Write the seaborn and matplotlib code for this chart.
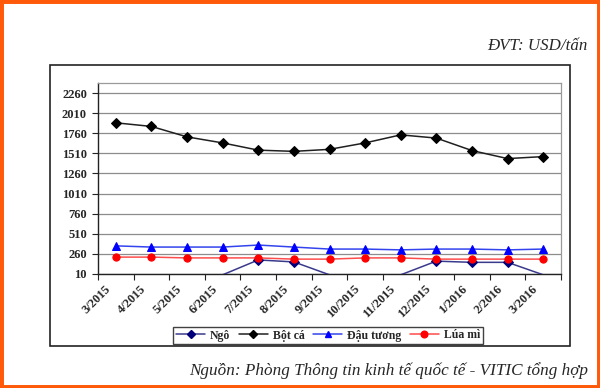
import numpy as np
import pandas as pd
import matplotlib
matplotlib.use("Agg")
import matplotlib.pyplot as plt
import seaborn as sns
from matplotlib.patches import Rectangle
from matplotlib.lines import Line2D
import matplotlib.transforms as mtransforms

months = ["3/2015", "4/2015", "5/2015", "6/2015", "7/2015", "8/2015", "9/2015",
          "10/2015", "11/2015", "12/2015", "1/2016", "2/2016", "3/2016"]
ngo = [0, 0, 0, 0, 185, 160, 0, 0, 0, 170, 155, 155, 0]
bot_ca = [1890, 1845, 1715, 1640, 1550, 1535, 1560, 1640, 1740, 1700, 1545, 1445, 1470]
dau_tuong = [360, 345, 345, 345, 370, 345, 320, 320, 310, 320, 320, 310, 320]
lua_mi = [220, 220, 210, 210, 210, 195, 195, 210, 210, 195, 195, 195, 195]
yticks = [10, 260, 510, 760, 1010, 1260, 1510, 1760, 2010, 2260]

series = [
    ("Ngô", ngo, "#3a3a8c", "#00007a", "D", 5, 4.5),
    ("Bột cá", bot_ca, "#202020", "#000000", "D", 5, 4.5),
    ("Đậu tương", dau_tuong, "#3344ee", "#0000ff", "^", 5.5, 5),
    ("Lúa mì", lua_mi, "#ff4c4c", "#ff0000", "o", 5.2, 4.8),
]

sns.set_theme(style="white")
plt.rcParams["font.family"] = ["Liberation Serif", "DejaVu Serif"]

fig = plt.figure(figsize=(6, 3.88), dpi=100)
W, H = 600, 388
ax = fig.add_axes([98 / W, 1 - 274 / H, 463 / W, 191 / H])

x = np.arange(len(months))
handles = []
for name, vals, lc, mc, mk, ms, lms in series:
    df = pd.DataFrame({"x": x, "y": vals})
    vis = [i for i, v in enumerate(vals) if v >= 10]
    sns.lineplot(data=df, x="x", y="y", ax=ax, color=lc, lw=1.1, marker=mk,
                 markersize=ms, markerfacecolor=mc, markeredgecolor=mc,
                 markevery=vis, legend=False, zorder=3)
    handles.append(Line2D([], [], color=lc, lw=1.1, marker=mk, markersize=lms,
                          markerfacecolor=mc, markeredgecolor=mc, label=name))

ax.set_xlim(-0.5, len(months) - 0.5)
ax.set_ylim(10, 2385)
ax.set_yticks(yticks)
ax.set_yticklabels([str(t) for t in yticks], fontsize=9, fontweight="bold")
ax.set_xticks(np.arange(-0.5, len(months)), minor=True)
ax.tick_params(axis="x", which="minor", length=4, width=0.8, color="#222222", direction="out", bottom=True)
ax.tick_params(axis="y", length=4, width=0.8, color="#222222", direction="out", left=True, pad=4)
ax.set_xticks(x)
ax.tick_params(axis="x", which="major", length=0, pad=0)
ax.set_xticklabels(months, rotation=45, ha="right", va="center", rotation_mode="anchor",
                   fontsize=9, fontweight="bold")
offset = mtransforms.ScaledTranslation(-7 / 100, -13 / 100, fig.dpi_scale_trans)
for lab in ax.get_xticklabels():
    lab.set_transform(lab.get_transform() + offset)
ax.set_xlabel("")
ax.set_ylabel("")
ax.grid(axis="y", color="#8c8c8c", lw=0.9)
ax.set_axisbelow(True)
for s in ["top", "right"]:
    ax.spines[s].set_color("#9a9a9a")
    ax.spines[s].set_linewidth(0.9)
for s in ["left", "bottom"]:
    ax.spines[s].set_color("#222222")
    ax.spines[s].set_linewidth(1.0)

leg = fig.legend(handles=handles, loc="center", bbox_to_anchor=(328 / W, 1 - 335.5 / H),
                 ncol=4, frameon=True, fancybox=False, edgecolor="#111111",
                 prop={"family": "Liberation Serif", "weight": "bold", "size": 8.5},
                 handlelength=2.5, handletextpad=0.4, columnspacing=0.7,
                 borderpad=0.25, borderaxespad=0)
leg.get_frame().set_linewidth(1.0)

fig.patches.append(Rectangle((50 / W, 1 - 346 / H), 520 / W, 281 / H, transform=fig.transFigure,
                             fill=False, edgecolor="#222222", lw=1.2))
fig.patches.append(Rectangle((0, 0), 1, 1, transform=fig.transFigure, fill=False,
                             edgecolor="#ff5a0a", lw=5.0))

fig.text(588 / W, 1 - 50 / H, "ĐVT: USD/tấn", ha="right", va="baseline",
         fontsize=12.2, style="italic")
fig.text(588 / W, 1 - 375 / H, "Nguồn: Phòng Thông tin kinh tế quốc tế - VITIC tổng hợp",
         ha="right", va="baseline", fontsize=12.3, style="italic")

fig.savefig("out.png", dpi=100)
